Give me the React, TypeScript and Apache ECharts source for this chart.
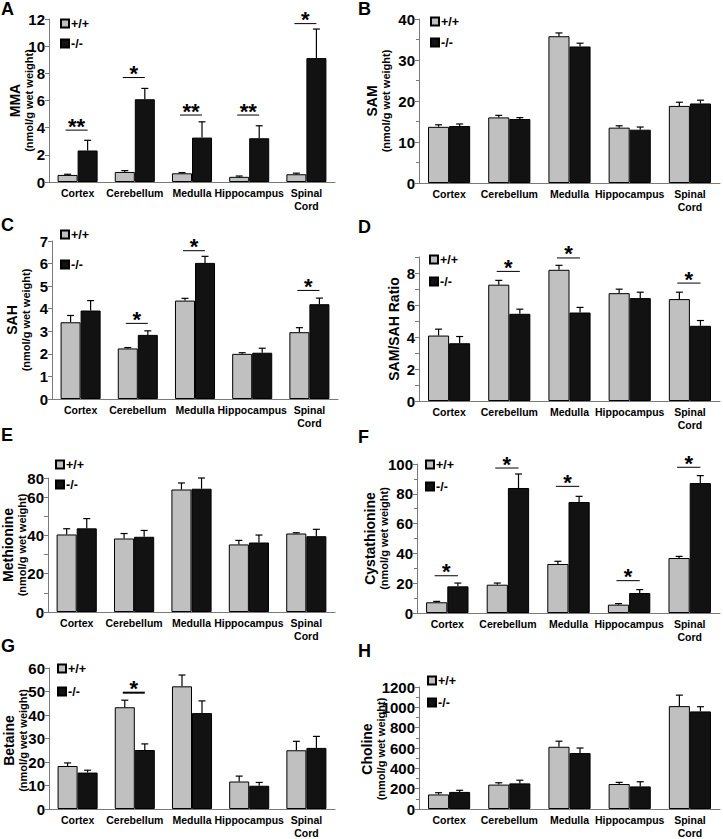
import React, { useEffect, useRef } from 'react';
import * as echarts from 'echarts';

const regions = ['Cortex', 'Cerebellum', 'Medulla', 'Hippocampus', 'Spinal\nCord'];
const groupNames = ['+/+', '-/-'];
const unitText = '(nmol/g wet weight)';

// A: MMA
const mmaWT = [0.52, 0.74, 0.64, 0.38, 0.57];
const mmaWTErr = [0.05, 0.1, 0.05, 0.06, 0.08];
const mmaKO = [2.32, 6.09, 3.27, 3.22, 9.12];
const mmaKOErr = [0.75, 0.8, 1.16, 0.92, 2.14];
const mmaSigLevel = [3.82, 7.69, 4.93, 4.93, 11.66];
const mmaSigMark = ['**', '*', '**', '**', '*'];

// B: SAM
const samWT = [13.7, 16.0, 35.8, 13.5, 18.8];
const samWTErr = [0.5, 0.5, 0.8, 0.45, 0.9];
const samKO = [13.9, 15.6, 33.3, 13.0, 19.4];
const samKOErr = [0.5, 0.35, 0.8, 0.65, 0.8];

// C: SAH
const sahWT = [3.4, 2.24, 4.36, 2.0, 2.96];
const sahWTErr = [0.3, 0.04, 0.1, 0.05, 0.2];
const sahKO = [3.92, 2.84, 6.03, 2.05, 4.2];
const sahKOErr = [0.44, 0.18, 0.29, 0.2, 0.27];
const sahSigLevel = [null, 3.35, 6.57, null, 4.81];
const sahSigMark = ['', '*', '*', '', '*'];

// D: SAM/SAH ratio
const ratioWT = [4.09, 7.27, 8.2, 6.74, 6.37];
const ratioWTErr = [0.4, 0.27, 0.28, 0.25, 0.43];
const ratioKO = [3.61, 5.45, 5.53, 6.43, 4.7];
const ratioKOErr = [0.42, 0.29, 0.32, 0.37, 0.33];
const ratioSigLevel = [null, 8.1, 8.94, null, 7.37];
const ratioSigMark = ['', '*', '*', '', '*'];

// E: Methionine
const metWT = [40.5, 38.4, 64, 35.3, 41];
const metWTErr = [3, 2.6, 3.4, 2.1, 0.4];
const metKO = [43.7, 39.3, 64.4, 36.3, 39.6];
const metKOErr = [5.1, 3.3, 5.6, 3.9, 3.6];
const metTickValues = [0, 20, 40, 60, 70];
const metTickLabels = ['0', '20', '40', '60', '80'];

// F: Cystathionine
const cysWT = [7.2, 19, 32.9, 5.6, 36.9];
const cysWTErr = [0.6, 1.1, 1.8, 0.7, 1.1];
const cysKO = [17.9, 83.9, 74.5, 13.4, 87.2];
const cysKOErr = [2.2, 9.4, 3.8, 2.3, 5];
const cysSigLevel = [25, 97.3, 85, 21.7, 97.8];
const cysSigMark = ['*', '*', '*', '*', '*'];

// G: Betaine
const betWT = [18.3, 43.3, 52.2, 11.7, 25];
const betWTErr = [1.3, 3, 4.8, 2.3, 3.8];
const betKO = [15.5, 25.1, 40.8, 9.9, 26];
const betKOErr = [1, 2.6, 5.2, 1.4, 4.9];
const betSigLevel = [null, 49.5, null, null, null];
const betSigMark = ['', '*', '', '', ''];

// H: Choline
const choWT = [143, 240, 612, 246, 1012];
const choWTErr = [17, 18, 55, 16, 108];
const choKO = [168, 252, 550, 222, 960];
const choKOErr = [16, 31, 50, 46, 46];

const FONT = '"Liberation Sans", Arial, Helvetica, sans-serif';
const GAP = 0.3;

type Panel = {
  letter: string; lx: number; ly: number;
  wt: number[]; wtErr: number[]; ko: number[]; koErr: number[];
  sigLevel?: (number | null)[]; sigMark?: string[]; sigWidth?: number;
  title: string; unit: boolean; nameX: number;
  max: number; interval: number; formatter?: (v: number) => string; minor?: boolean;
  grid: { left: number; top: number; width: number; height: number };
  legend: { left: number; center: number; gap: number };
};

const panels: Panel[] = [
  { letter: 'A', lx: 1, ly: 0, wt: mmaWT, wtErr: mmaWTErr, ko: mmaKO, koErr: mmaKOErr,
    sigLevel: mmaSigLevel, sigMark: mmaSigMark, title: 'MMA', unit: true, nameX: 21,
    max: 12, interval: 2, grid: { left: 49, top: 19, width: 286, height: 163 },
    legend: { left: 60, center: 24, gap: 21 } },
  { letter: 'B', lx: 358, ly: 0, wt: samWT, wtErr: samWTErr, ko: samKO, koErr: samKOErr,
    title: 'SAM', unit: true, nameX: 378, max: 40, interval: 10, minor: true,
    grid: { left: 419, top: 19, width: 301, height: 164 },
    legend: { left: 430, center: 22, gap: 22 } },
  { letter: 'C', lx: 1, ly: 216, wt: sahWT, wtErr: sahWTErr, ko: sahKO, koErr: sahKOErr,
    sigLevel: sahSigLevel, sigMark: sahSigMark, title: 'SAH', unit: true, nameX: 18,
    max: 7, interval: 1, grid: { left: 52, top: 241, width: 286, height: 158 },
    legend: { left: 60, center: 235, gap: 31 } },
  { letter: 'D', lx: 358, ly: 218, wt: ratioWT, wtErr: ratioWTErr, ko: ratioKO, koErr: ratioKOErr,
    sigLevel: ratioSigLevel, sigMark: ratioSigMark, title: 'SAM/SAH Ratio', unit: false, nameX: 394,
    max: 9, interval: 1, formatter: (v) => (v % 2 === 0 ? String(v) : ''),
    grid: { left: 419, top: 257, width: 301, height: 144 },
    legend: { left: 429, center: 260, gap: 23 } },
  { letter: 'E', lx: 1, ly: 426, wt: metWT, wtErr: metWTErr, ko: metKO, koErr: metKOErr,
    title: 'Methionine', unit: true, nameX: 14, max: 70, interval: 10,
    formatter: (v) => { const i = metTickValues.indexOf(v); return i >= 0 ? metTickLabels[i] : ''; },
    grid: { left: 48, top: 478, width: 287, height: 134 },
    legend: { left: 55, center: 465, gap: 21 } },
  { letter: 'F', lx: 358, ly: 428, wt: cysWT, wtErr: cysWTErr, ko: cysKO, koErr: cysKOErr,
    sigLevel: cysSigLevel, sigMark: cysSigMark, title: 'Cystathionine', unit: true, nameX: 376,
    max: 100, interval: 20, minor: true, grid: { left: 417, top: 464, width: 303, height: 149 },
    legend: { left: 425, center: 465, gap: 23 } },
  { letter: 'G', lx: 1, ly: 637, wt: betWT, wtErr: betWTErr, ko: betKO, koErr: betKOErr,
    sigLevel: betSigLevel, sigMark: betSigMark, sigWidth: 2, title: 'Betaine', unit: true, nameX: 15,
    max: 60, interval: 10, grid: { left: 49, top: 668, width: 286, height: 145 },
    legend: { left: 57, center: 669, gap: 24 } },
  { letter: 'H', lx: 358, ly: 642, wt: choWT, wtErr: choWTErr, ko: choKO, koErr: choKOErr,
    title: 'Choline', unit: true, nameX: 373, max: 1200, interval: 200, minor: true,
    grid: { left: 419, top: 687, width: 301, height: 124 },
    legend: { left: 427, center: 681, gap: 23 } },
];

function errRender(side: number) {
  return (params: any, api: any) => {
    const ci = api.value(0), v = api.value(1), e = api.value(2);
    const base = api.coord([ci, v]);
    const top = api.coord([ci, v + e]);
    const band = api.size([1, 0])[0];
    const bw = (band * (1 - GAP)) / 2;
    const cx = base[0] + (side === 0 ? -bw / 2 : bw / 2);
    return {
      type: 'group',
      children: [
        { type: 'line', shape: { x1: cx, y1: base[1], x2: cx, y2: top[1] }, style: { stroke: '#000', lineWidth: 1.2 } },
        { type: 'line', shape: { x1: cx - 3.5, y1: top[1], x2: cx + 3.5, y2: top[1] }, style: { stroke: '#000', lineWidth: 1.2 } },
      ],
    };
  };
}

function sigRender(marks: string[], lw: number) {
  return (params: any, api: any) => {
    const ci = api.value(0), lvl = api.value(1);
    const p = api.coord([ci, lvl]);
    const band = api.size([1, 0])[0];
    const bw = (band * (1 - GAP)) / 2;
    const half = bw * 0.55;
    const mark = marks[api.value(2)];
    return {
      type: 'group',
      children: [
        { type: 'line', shape: { x1: p[0] - half - 1, y1: p[1], x2: p[0] + half - 1, y2: p[1] }, style: { stroke: '#000', lineWidth: lw } },
        { type: 'text', x: p[0] - 1, y: p[1] - 4, style: { text: mark, fontSize: 22, fontWeight: 'bold', fontFamily: FONT, fill: '#000', align: 'center', verticalAlign: 'middle' } },
      ],
    };
  };
}

export default function App() {
  const ref = useRef<HTMLDivElement>(null);
  useEffect(() => {
    document.body.style.margin = '0';
    if (!ref.current) return;
    const chart = echarts.init(ref.current, undefined, { renderer: 'svg' });
    const grids: any[] = [], xAxes: any[] = [], yAxes: any[] = [], series: any[] = [], legends: any[] = [], graphics: any[] = [];
    panels.forEach((p, i) => {
      grids.push({ ...p.grid, containLabel: false });
      xAxes.push({
        gridIndex: i, type: 'category', data: regions,
        axisLine: { lineStyle: { color: '#7a7a7a', width: 1 } },
        axisTick: { length: 3, lineStyle: { color: '#7a7a7a' } },
        axisLabel: { interval: 0, fontFamily: FONT, fontWeight: 'bold', fontSize: 10.5, color: '#000', margin: 4, lineHeight: 13 },
      });
      yAxes.push({
        gridIndex: i, type: 'value', min: 0, max: p.max, interval: p.interval,
        axisLine: { show: true, lineStyle: { color: '#7a7a7a', width: 1 } },
        axisTick: { show: true, length: 4, lineStyle: { color: '#7a7a7a' } },
        minorTick: { show: !!p.minor, splitNumber: 2, length: 3, lineStyle: { color: '#7a7a7a' } },
        splitLine: { show: false },
        axisLabel: { fontFamily: FONT, fontWeight: 'bold', fontSize: 15, color: '#000', margin: 4, formatter: p.formatter || ((v: number) => String(v)) },
      });
      series.push({
        type: 'bar', name: groupNames[0], xAxisIndex: i, yAxisIndex: i, data: p.wt,
        barGap: '0%', barCategoryGap: `${GAP * 100}%`,
        itemStyle: { color: '#c0c0c0', borderColor: '#000', borderWidth: 1 }, z: 2,
      });
      series.push({
        type: 'bar', name: groupNames[1], xAxisIndex: i, yAxisIndex: i, data: p.ko,
        barGap: '0%', barCategoryGap: `${GAP * 100}%`,
        itemStyle: { color: '#121212', borderColor: '#000', borderWidth: 1 }, z: 2,
      });
      series.push({
        type: 'custom', name: `errWT${i}`, xAxisIndex: i, yAxisIndex: i, z: 3,
        renderItem: errRender(0), data: p.wt.map((v, k) => [k, v, p.wtErr[k]]),
      });
      series.push({
        type: 'custom', name: `errKO${i}`, xAxisIndex: i, yAxisIndex: i, z: 3,
        renderItem: errRender(1), data: p.ko.map((v, k) => [k, v, p.koErr[k]]),
      });
      if (p.sigLevel && p.sigMark) {
        const marks = p.sigMark;
        const data: number[][] = [];
        p.sigLevel.forEach((lvl, k) => { if (lvl !== null) data.push([k, lvl, k]); });
        series.push({
          type: 'custom', name: `sig${i}`, xAxisIndex: i, yAxisIndex: i, z: 4,
          renderItem: sigRender(marks, p.sigWidth || 1), data,
        });
      }
      legends.push({
        data: groupNames, orient: 'vertical', left: p.legend.left, top: p.legend.center - 7,
        itemGap: p.legend.gap - 14, itemWidth: 8, itemHeight: 8, padding: 0, selectedMode: false,
        icon: 'rect',
        textStyle: { fontFamily: FONT, fontWeight: 'bold', fontSize: 12.5, color: '#000', padding: [0, 0, 0, -3] },
      });
      graphics.push({
        type: 'text', left: p.lx, top: p.ly,
        style: { text: p.letter, fontFamily: FONT, fontWeight: 'bold', fontSize: 18, fill: '#000' },
      });
      graphics.push({
        type: 'text', x: p.nameX, y: p.grid.top + p.grid.height / 2, rotation: Math.PI / 2,
        style: {
          text: p.unit ? `{t|${p.title}}\n{u|${unitText}}` : `{t|${p.title}}`,
          align: 'center', verticalAlign: 'middle', fill: '#000',
          rich: {
            t: { fontFamily: FONT, fontWeight: 'bold', fontSize: 14, lineHeight: 15, fill: '#000', align: 'center' },
            u: { fontFamily: FONT, fontWeight: 'bold', fontSize: 11, lineHeight: 13, fill: '#000', align: 'center' },
          },
        },
      });
    });
    chart.setOption({
      animation: false,
      backgroundColor: '#fff',
      grid: grids, xAxis: xAxes, yAxis: yAxes, series, legend: legends, graphic: graphics,
    });
    return () => chart.dispose();
  }, []);
  return <div ref={ref} style={{ width: 723, height: 839 }} />;
}
